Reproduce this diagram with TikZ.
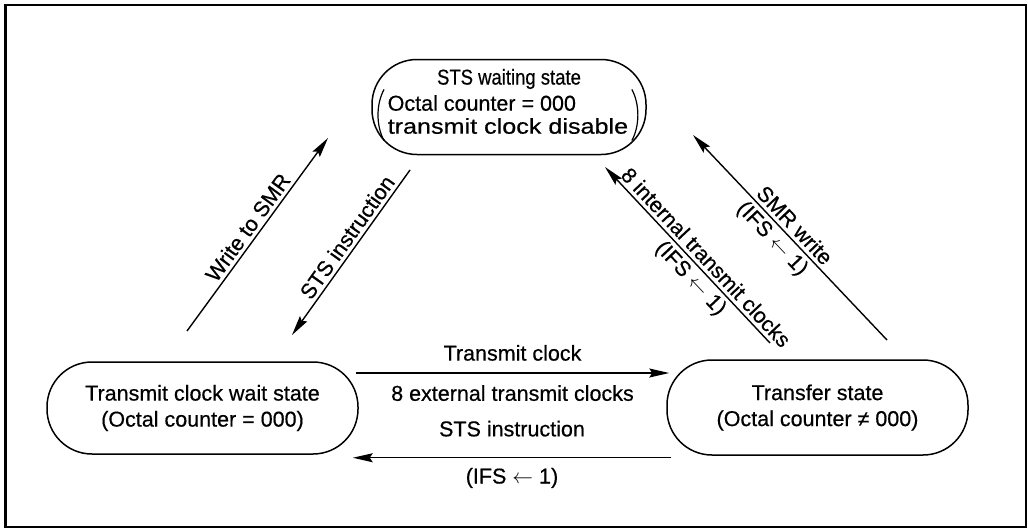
\documentclass[tikz,border=0pt]{standalone}
\usepackage{fontspec}
\setmainfont{Liberation Sans}[FakeBold=0.5]
\usetikzlibrary{arrows.meta}
\newcommand{\larr}{\ensuremath{\leftarrow}}
\begin{document}
\begin{tikzpicture}[x=1pt,y=-1pt,
  every node/.style={font=\fontsize{21.5}{26}\selectfont, inner sep=3.5pt},
  state/.style={draw, line width=1.5pt, rounded corners=45pt, align=center},
  arr/.style={line width=1.4pt, -{Stealth[length=20pt,width=9pt,inset=3pt]}},
  paren/.style={line width=1.2pt}]
\useasboundingbox (0,0) rectangle (1028,528);
\draw[line width=2pt] (5,5) rectangle (1026,527);
\draw[line width=3pt] (5,5) -- (5,527);

% states
\node[state, minimum width=274pt, minimum height=95pt] (wait) at (509,107) {};
\node (w1) at (509,79) {\scalebox{0.86}[1]{STS waiting state}};
\node[anchor=west] (w2) at (384,103) {Octal counter = 000};
\node[anchor=west] (w3) at (384,126) {\scalebox{1.17}[1]{transmit clock disable}};
\draw[paren] ([xshift=0pt,yshift=2pt]w2.north west) .. controls +(-8,15) and +(-8,-15) .. ([xshift=0pt,yshift=-3pt]w3.south west);
\draw[paren] ([xshift=0pt,yshift=2pt]w3.east |- w2.north) .. controls +(8,15) and +(8,-15) .. ([xshift=0pt,yshift=-3pt]w3.south east);

\node[state, minimum width=311pt, minimum height=92pt] (clk) at (202.5,408) {Transmit clock wait state\\(Octal counter = 000)};
\node[state, minimum width=301pt, minimum height=95pt] (xfer) at (817.5,407.5) {Transfer state\\(Octal counter ≠ 000)};

% horizontal connectors
\coordinate (hA) at ([xshift=-3pt,yshift=35pt]clk.east);
\coordinate (hB) at ([xshift=3pt,yshift=34.5pt]xfer.west);
\draw[arr] (hA) -- node[midway, above=8pt] {Transmit clock} node[midway, below=8pt] {8 external transmit clocks} (hB);
\coordinate (hC) at ([xshift=5pt,yshift=-2pt]xfer.south west);
\coordinate (hD) at ([xshift=-6pt,yshift=-3pt]clk.south east);
\draw[arr] (hC) -- node[midway, above=17pt] {STS instruction} node[midway, below=6pt] {(IFS \larr{} 1)} (hD);

% diagonal connectors
\coordinate (d1a) at (187,331); \coordinate (d1b) at (328,138);
\draw[arr] (d1a) -- node[midway, sloped, above] {Write to SMR} (d1b);
\coordinate (d2a) at (410,170); \coordinate (d2b) at (292,335);
\draw[arr] (d2a) -- node[pos=0.45, sloped, above] {STS instruction} (d2b);
\coordinate (d3a) at (770,343); \coordinate (d3b) at (605,167);
\draw[arr] (d3a) -- node[pos=0.44, sloped, above] {8 internal transmit clocks} node[pos=0.42, sloped, below] {(IFS \larr{} 1)} (d3b);
\coordinate (d4a) at (887,340); \coordinate (d4b) at (693,135);
\draw[arr] (d4a) -- node[pos=0.52, sloped, above] {SMR write} node[pos=0.54, sloped, below] {(IFS \larr{} 1)} (d4b);
\end{tikzpicture}
\end{document}
